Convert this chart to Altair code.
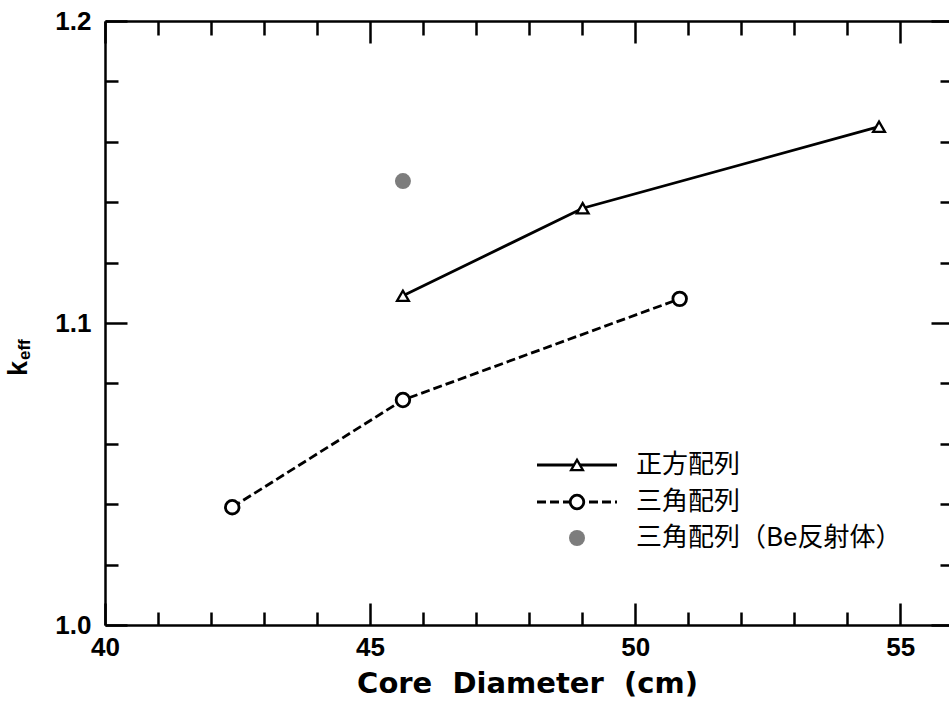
import altair as alt
import pandas as pd

# k_eff versus core diameter for the two fuel lattices
square_d = [45.62, 49.01, 54.60]
square_k = [1.109, 1.138, 1.165]
tri_d = [42.40, 45.62, 50.84]
tri_k = [1.039, 1.0745, 1.108]
be_d = [45.62]
be_k = [1.147]

legend_labels = ["正方配列", "三角配列", "三角配列（Be反射体）"]

x_major = [40, 45, 50, 55]
x_minor = [41, 42, 43, 44, 46, 47, 48, 49, 51, 52, 53, 54]
y_major = [1.0, 1.1, 1.2]
y_minor = [1.02, 1.04, 1.06, 1.08, 1.12, 1.14, 1.16, 1.18]

W, H = 844, 604
xs = alt.Scale(domain=[40, 55.92], nice=False, zero=False)
ys = alt.Scale(domain=[1.0, 1.2], nice=False, zero=False)

df_sq = pd.DataFrame({"d": square_d, "k": square_k})
df_tri = pd.DataFrame({"d": tri_d, "k": tri_k})
df_be = pd.DataFrame({"d": be_d, "k": be_k})
df_all = pd.concat([df_sq, df_tri, df_be], ignore_index=True)

LABEL_FONT = "Liberation Sans"

main_x_axis = alt.Axis(
    orient="bottom", values=x_major, format="d",
    labelFont=LABEL_FONT, labelFontSize=26, labelFontWeight="bold",
    labelColor="black", labelPadding=9, labelFlush=False, labelOverlap=False,
    ticks=False, grid=False,
    domain=True, domainColor="black", domainWidth=2.5,
    title="Core\u00a0\u00a0Diameter\u00a0\u00a0(cm)",
    titleFont="DejaVu Sans", titleFontSize=29, titleFontWeight="bold",
    titleColor="black", titlePadding=9,
)
main_y_axis = alt.Axis(
    orient="left", values=y_major, format=".1f",
    labelFont=LABEL_FONT, labelFontSize=26, labelFontWeight="bold",
    labelColor="black", labelPadding=14, labelFlush=False, labelOverlap=False,
    ticks=False, grid=False,
    domain=True, domainColor="black", domainWidth=2.5,
    title=None,
)


def tick_axis(orient, vals, length):
    # inward-pointing ticks: shift the axis into the plot by its tick length
    return alt.Axis(
        orient=orient, values=vals, offset=-length, tickSize=length,
        tickWidth=2.5, tickColor="black", labels=False, domain=False,
        grid=False, title=None,
    )


def tick_layer(xo, xv, xl, yo, yv, yl):
    return alt.Chart(df_all).mark_point(opacity=0).encode(
        x=alt.X("d:Q", scale=xs, axis=tick_axis(xo, xv, xl)),
        y=alt.Y("k:Q", scale=ys, axis=tick_axis(yo, yv, yl)),
    )


frame = alt.Chart(df_all).mark_point(opacity=0).encode(
    x=alt.X("d:Q", scale=xs, axis=alt.Axis(
        orient="top", ticks=False, labels=False, grid=False, title=None,
        domain=True, domainColor="black", domainWidth=2.5)),
    y=alt.Y("k:Q", scale=ys, axis=None),
)

ticks = [
    tick_layer("bottom", x_major, 22, "left", y_major, 22),
    tick_layer("bottom", x_minor, 13, "left", y_minor, 13),
    tick_layer("top", x_major, 22, "right", y_major, 18),
    tick_layer("top", x_minor, 14, "right", y_minor, 9),
]

line_sq = alt.Chart(df_sq).mark_line(color="black", strokeWidth=2.8).encode(
    x=alt.X("d:Q", scale=xs, axis=main_x_axis),
    y=alt.Y("k:Q", scale=ys, axis=main_y_axis),
)
pts_sq = alt.Chart(df_sq).mark_point(
    shape="triangle-up", size=140, filled=True, fill="white",
    stroke="black", strokeWidth=2.3, opacity=1,
).encode(
    x=alt.X("d:Q", scale=xs, axis=None),
    y=alt.Y("k:Q", scale=ys, axis=None),
)
line_tri = alt.Chart(df_tri).mark_line(
    color="black", strokeWidth=2.8, strokeDash=[9, 4]
).encode(
    x=alt.X("d:Q", scale=xs, axis=None),
    y=alt.Y("k:Q", scale=ys, axis=None),
)
pts_tri = alt.Chart(df_tri).mark_point(
    shape="circle", size=185, filled=True, fill="white",
    stroke="black", strokeWidth=2.8, opacity=1,
).encode(
    x=alt.X("d:Q", scale=xs, axis=None),
    y=alt.Y("k:Q", scale=ys, axis=None),
)
pts_be = alt.Chart(df_be).mark_circle(size=256, color="#7d7d7d", opacity=1).encode(
    x=alt.X("d:Q", scale=xs, axis=None),
    y=alt.Y("k:Q", scale=ys, axis=None),
)

# hand-placed legend inside the plot area
one = pd.DataFrame({"z": [0]})
row_y = [444, 481, 517]
sym_x, line_x0, line_x1, text_x = 472, 432, 512, 531

leg = [
    alt.Chart(one).mark_rule(color="black", strokeWidth=2.8).encode(
        x=alt.value(line_x0), x2=alt.value(line_x1), y=alt.value(row_y[0])),
    alt.Chart(one).mark_point(
        shape="triangle-up", size=140, filled=True, fill="white",
        stroke="black", strokeWidth=2.3, opacity=1,
    ).encode(x=alt.value(sym_x), y=alt.value(row_y[0])),
    alt.Chart(one).mark_rule(color="black", strokeWidth=2.8, strokeDash=[9, 4]).encode(
        x=alt.value(line_x0), x2=alt.value(line_x1), y=alt.value(row_y[1])),
    alt.Chart(one).mark_point(
        shape="circle", size=185, filled=True, fill="white",
        stroke="black", strokeWidth=2.8, opacity=1,
    ).encode(x=alt.value(sym_x), y=alt.value(row_y[1])),
    alt.Chart(one).mark_circle(size=256, color="#7d7d7d", opacity=1).encode(
        x=alt.value(sym_x), y=alt.value(row_y[2])),
]
for i, lab in enumerate(legend_labels):
    leg.append(
        alt.Chart(pd.DataFrame({"t": [lab]})).mark_text(
            align="left", baseline="middle", font="Noto Sans CJK JP",
            fontSize=26, color="black",
        ).encode(text="t:N", x=alt.value(text_x), y=alt.value(row_y[i]))
    )

# y-axis title: k with subscript "eff", rotated
ytitle = [
    alt.Chart(pd.DataFrame({"t": ["k"]})).mark_text(
        angle=270, align="left", baseline="alphabetic", font=LABEL_FONT,
        fontSize=27, fontWeight="bold", color="black",
    ).encode(text="t:N", x=alt.value(-78), y=alt.value(355)),
    alt.Chart(pd.DataFrame({"t": ["eff"]})).mark_text(
        angle=270, align="left", baseline="alphabetic", font=LABEL_FONT,
        fontSize=17, fontWeight="bold", color="black",
    ).encode(text="t:N", x=alt.value(-75), y=alt.value(339)),
]

chart = alt.layer(
    line_sq, frame, *ticks, line_tri, pts_tri, pts_sq, pts_be, *leg, *ytitle
).resolve_axis(
    x="independent", y="independent"
).properties(
    width=W, height=H,
    padding={"left": 105, "top": 21, "right": 0, "bottom": 77},
    autosize=alt.AutoSizeParams(type="none"),
    background="white",
).configure_view(stroke=None)

chart.save("out.html", embed_options={"renderer": "svg", "actions": False})
